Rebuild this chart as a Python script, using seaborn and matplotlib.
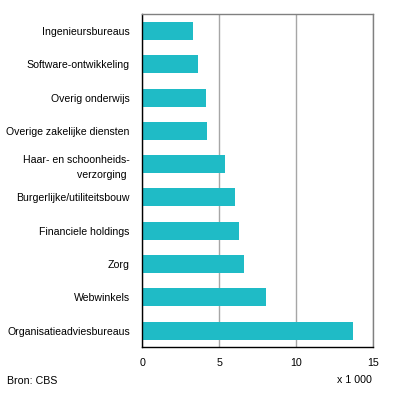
import pandas as pd
import seaborn as sns
import matplotlib.pyplot as plt

# categories and values (x 1 000)
branches = ["Ingenieursbureaus", "Software-ontwikkeling", "Overig onderwijs",
            "Overige zakelijke diensten", "Haar- en schoonheids-\nverzorging ",
            "Burgerlijke/utiliteitsbouw", "Financiele holdings", "Zorg",
            "Webwinkels", "Organisatieadviesbureaus"]
values = [3.27, 3.62, 4.14, 4.2, 5.37, 6.02, 6.28, 6.6, 8.03, 13.68]
xticks = [0, 5, 10, 15]

dfm = pd.DataFrame({"branche": branches, "aantal": values})

sns.set_style("white")
plt.rcParams['font.family'] = ['Liberation Sans', 'DejaVu Sans']
plt.rcParams['text.color'] = 'black'
plt.rcParams['xtick.color'] = 'black'
plt.rcParams['ytick.color'] = 'black'

fig = plt.figure(figsize=(3.96, 3.97), dpi=100)
ax = fig.add_axes([0.3594, 0.1252, 0.5833, 0.8388])

sns.barplot(data=dfm, x="aantal", y="branche", color="#1FBBC6", width=0.54,
            saturation=1, linewidth=0, ax=ax, zorder=3)

ax.set_xlim(0, 15)
ax.set_xticks(xticks)
ax.set_xticklabels([str(t) for t in xticks], fontsize=7.7)
ax.tick_params(axis="y", labelsize=7.6, length=0, pad=9)
ax.tick_params(axis="x", length=3, width=1, pad=5, direction="out", color="black")
for lab in ax.get_yticklabels():
    lab.set_linespacing(1.6)
ax.set_xlabel("")
ax.set_ylabel("")
ax.xaxis.grid(True, color="#A6A6A6", linewidth=1, zorder=0)
ax.yaxis.grid(False)

for s in ["top", "right"]:
    ax.spines[s].set_color("#808080")
    ax.spines[s].set_linewidth(1)
for s in ["left", "bottom"]:
    ax.spines[s].set_color("black")
    ax.spines[s].set_linewidth(1)
for s in ax.spines.values():
    s.set_zorder(5)

fig.text(7 / 396, 1 - 381 / 397, "Bron: CBS", fontsize=7.7, va="center", ha="left")
fig.text(372 / 396, 1 - 380 / 397, "x 1 000", fontsize=7.7, va="center", ha="right")

fig.savefig("out.png", dpi=100)
